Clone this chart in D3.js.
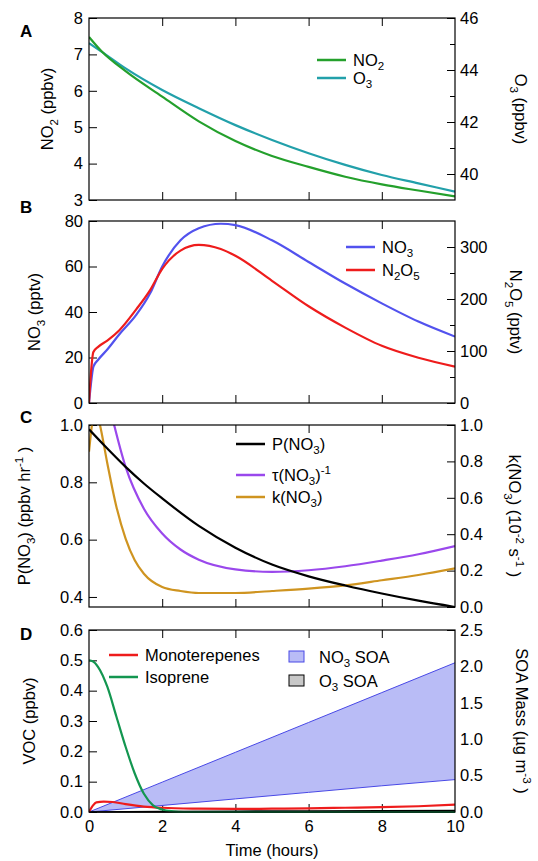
<!DOCTYPE html>
<html>
<head>
<meta charset="utf-8">
<script src="https://cdn.jsdelivr.net/npm/d3@7"></script>
<style>
body { margin: 0; background: #fff; }
text { font-family: "Liberation Sans", Arial, sans-serif; fill: #000; }
</style>
</head>
<body>
<svg id="chart" width="538" height="861"></svg>
<script>
// Panel A
var tA = [0, 0.35, 1, 2, 3, 4, 5, 6, 7, 8, 9, 10];
var no2 = [7.48, 7.08, 6.54, 5.84, 5.16, 4.62, 4.21, 3.91, 3.64, 3.43, 3.26, 3.10];
var o3 = [45.03, 44.70, 44.06, 43.23, 42.53, 41.88, 41.31, 40.80, 40.35, 39.96, 39.64, 39.32];

// Panel B
var tB = [0, 0.05, 0.12, 0.25, 0.5, 0.83, 1.29, 1.67, 2, 2.5, 3, 3.6, 4, 5, 6, 7, 8, 9, 10];
var no3 = [0, 8, 16, 19, 23.5, 30.2, 38.7, 48.2, 60, 71.5, 76.8, 78.8, 78.2, 71.5, 62, 52.5, 43.8, 35.8, 29.2];
var n2o5 = [0, 55, 98, 108, 120, 140, 180, 217, 258, 293, 304, 296, 283, 235, 186, 145, 110, 87, 70];

// Panel C
var tP = [0, 0.5, 1, 1.5, 2, 3, 4, 5, 6, 7, 8, 9, 10];
var pNo3 = [0.985, 0.918, 0.854, 0.796, 0.744, 0.648, 0.572, 0.513, 0.472, 0.44, 0.412, 0.387, 0.365];
var tTau = [0.6, 1, 1.5, 2, 2.5, 3, 4, 5, 6, 7, 8, 9, 10];
var tauInv = [1.07, 0.77, 0.54, 0.404, 0.316, 0.26, 0.207, 0.193, 0.202, 0.224, 0.255, 0.29, 0.335];
var tK = [0, 0.08, 0.17, 0.3, 0.5, 0.75, 1, 1.25, 1.5, 2, 2.5, 3, 4, 5, 6, 7, 8, 9, 10];
var kNo3 = [0.853, 1.0, 1.1, 1.0, 0.79, 0.55, 0.376, 0.257, 0.183, 0.11, 0.088, 0.077, 0.077, 0.088, 0.101, 0.119, 0.147, 0.176, 0.212];

// Panel D
var tMono = [0, 0.1, 0.2, 0.4, 0.65, 1, 1.5, 2, 3, 4, 5, 6, 7, 8, 9, 10];
var mono = [0, 0.02, 0.032, 0.034, 0.033, 0.026, 0.018, 0.014, 0.011, 0.01, 0.011, 0.012, 0.014, 0.016, 0.019, 0.024];
var tIso = [0, 0.1, 0.25, 0.5, 0.75, 1, 1.25, 1.5, 1.75, 2, 2.3, 2.6, 10];
var iso = [0.5, 0.497, 0.478, 0.413, 0.314, 0.215, 0.127, 0.06, 0.022, 0.008, 0.002, 0, 0];
var tSoa = [0, 2, 4, 6, 8, 10];
var no3SoaHigh = [0, 0.41, 0.82, 1.23, 1.64, 2.05];
var no3SoaLow = [0, 0.09, 0.18, 0.27, 0.36, 0.445];
var o3Soa = [0, 0.008, 0.012, 0.015, 0.018, 0.02];

var xTicks = [0, 2, 4, 6, 8, 10];

var svg = d3.select("#chart");
var left = 89, right = 455, H = 182, FS = 16.5;
var x = d3.scaleLinear().domain([0, 10]).range([left, right]);

function zip(t, v) {
    return t.map(function(d, i) { return [d, v[i]]; });
}

// writes text with sub/superscript pieces
function rich(sel, parts, size) {
    var shift = 0;
    parts.forEach(function(p) {
        var target = p[1] == "sub" ? size * 0.3 : (p[1] == "sup" ? -size * 0.4 : 0);
        var ts = sel.append("tspan").text(p[0]).attr("dy", target - shift);
        if (p[1]) ts.attr("font-size", size * 0.7);
        shift = target;
    });
    return sel;
}

function makePanel(opt) {
    var top = opt.top, bottom = top + H;
    var g = svg.append("g");
    var yL = d3.scaleLinear().domain(opt.left).range([bottom, top]);
    var yR = d3.scaleLinear().domain(opt.right).range([bottom, top]);

    // clip at the frame, a little slack at the bottom so zero lines stay whole
    g.append("clipPath").attr("id", "clip" + opt.id)
        .append("rect").attr("x", left).attr("y", top).attr("width", right - left).attr("height", H + 2);

    // axes, all ticks point inward
    g.append("g").attr("transform", "translate(" + left + ",0)")
        .call(d3.axisLeft(yL).tickValues(opt.leftTicks).tickSize(-8).tickPadding(6).tickFormat(d3.format(opt.leftFmt)));
    g.append("g").attr("transform", "translate(" + right + ",0)")
        .call(d3.axisRight(yR).tickValues(opt.rightTicks).tickSize(-8).tickPadding(5).tickFormat(d3.format(opt.rightFmt)));
    if (opt.rightMinor) {
        g.append("g").attr("transform", "translate(" + right + ",0)")
            .call(d3.axisRight(yR).tickValues(opt.rightMinor).tickSize(-5).tickFormat(""));
    }
    g.append("g").attr("transform", "translate(0," + top + ")")
        .call(d3.axisTop(x).tickValues(xTicks.slice(1, 5)).tickSize(-8).tickFormat(""));
    var xb = g.append("g").attr("transform", "translate(0," + bottom + ")")
        .call(d3.axisBottom(x).tickValues(opt.bottomLabels ? xTicks : xTicks.slice(1, 5)).tickSize(-8).tickPadding(8)
            .tickFormat(opt.bottomLabels ? d3.format("d") : ""));
    g.selectAll(".domain").remove();
    g.selectAll(".tick line").attr("stroke", "#000");
    g.selectAll(".tick text").attr("font-size", FS).attr("font-family", "Liberation Sans, Arial, sans-serif").attr("fill", "#000");
    if (opt.bottomLabels) {
        xb.selectAll(".tick line").filter(function(d) { return d == 0 || d == 10; }).remove();
    }

    var plot = g.append("g").attr("clip-path", "url(#clip" + opt.id + ")");

    g.append("rect").attr("x", left).attr("y", top).attr("width", right - left).attr("height", H)
        .attr("fill", "none").attr("stroke", "#000").attr("stroke-width", 1.2);

    // panel letter
    g.append("text").attr("x", 20).attr("y", opt.letterY).attr("font-size", 17).attr("font-weight", "bold").text(opt.id);

    // axis titles
    rich(g.append("text").attr("font-size", FS).attr("text-anchor", "middle")
        .attr("transform", "translate(" + opt.leftTitleX + "," + (top + H / 2) + ") rotate(-90)"), opt.leftTitle, FS);
    rich(g.append("text").attr("font-size", FS).attr("text-anchor", "middle")
        .attr("transform", "translate(" + opt.rightTitleX + "," + (top + H / 2) + ") rotate(90)"), opt.rightTitle, FS);

    return {g: g, plot: plot, yL: yL, yR: yR, top: top};
}

function drawLine(p, y, t, v, color, w) {
    p.plot.append("path")
        .datum(zip(t, v))
        .attr("fill", "none").attr("stroke", color).attr("stroke-width", w || 2.2)
        .attr("stroke-linejoin", "round")
        .attr("d", d3.line().x(function(d) { return x(d[0]); }).y(function(d) { return y(d[1]); }).curve(d3.curveMonotoneX));
}

function legendLine(p, x0, y0, color, parts) {
    p.g.append("line").attr("x1", x0).attr("x2", x0 + 29).attr("y1", y0).attr("y2", y0)
        .attr("stroke", color).attr("stroke-width", 2.5);
    rich(p.g.append("text").attr("x", x0 + 36).attr("y", y0 + 5.5).attr("font-size", FS), parts, FS);
}

var green = "#24a02c", teal = "#22a0aa", blue = "#5252ee", red = "#ee1c1c";
var purple = "#9a48ec", orange = "#cf9420", isoGreen = "#139650";

// A
var pA = makePanel({id: "A", top: 18, left: [3, 8], right: [39, 46],
    leftTicks: [3, 4, 5, 6, 7, 8], leftFmt: "d", rightTicks: [40, 42, 44, 46], rightFmt: "d", rightMinor: [41, 43, 45],
    letterY: 37, leftTitleX: 53, rightTitleX: 515,
    leftTitle: [["NO"], ["2", "sub"], [" (ppbv)"]], rightTitle: [["O"], ["3", "sub"], [" (ppbv)"]]});
drawLine(pA, pA.yR, tA, o3, teal);
drawLine(pA, pA.yL, tA, no2, green);
legendLine(pA, 317, 60, green, [["NO"], ["2", "sub"]]);
legendLine(pA, 317, 78, teal, [["O"], ["3", "sub"]]);

// B
var pB = makePanel({id: "B", top: 221, left: [0, 80], right: [0, 350],
    leftTicks: [0, 20, 40, 60, 80], leftFmt: "d", rightTicks: [0, 100, 200, 300], rightFmt: "d", rightMinor: [50, 150, 250],
    letterY: 213, leftTitleX: 40, rightTitleX: 510,
    leftTitle: [["NO"], ["3", "sub"], [" (pptv)"]], rightTitle: [["N"], ["2", "sub"], ["O"], ["5", "sub"], [" (pptv)"]]});
drawLine(pB, pB.yL, tB, no3, blue);
drawLine(pB, pB.yR, tB, n2o5, red);
legendLine(pB, 346, 247, blue, [["NO"], ["3", "sub"]]);
legendLine(pB, 346, 270, red, [["N"], ["2", "sub"], ["O"], ["5", "sub"]]);

// C
var pC = makePanel({id: "C", top: 425, left: [0.365, 1.0], right: [0, 1],
    leftTicks: [0.4, 0.6, 0.8, 1.0], leftFmt: ".1f", rightTicks: [0, 0.2, 0.4, 0.6, 0.8, 1.0], rightFmt: ".1f",
    letterY: 423, leftTitleX: 30, rightTitleX: 509,
    leftTitle: [["P(NO"], ["3", "sub"], [") (ppbv hr"], ["-1", "sup"], [" )"]],
    rightTitle: [["k(NO"], ["3", "sub"], [") (10"], ["-2", "sup"], [" s"], ["-1", "sup"], [" )"]]});
drawLine(pC, pC.yR, tK, kNo3, orange);
drawLine(pC, pC.yR, tTau, tauInv, purple);
drawLine(pC, pC.yL, tP, pNo3, "#000");
legendLine(pC, 236, 444, "#000", [["P(NO"], ["3", "sub"], [")"]]);
legendLine(pC, 236, 475, purple, [["τ(NO"], ["3", "sub"], [")"], ["-1", "sup"]]);
legendLine(pC, 236, 497, orange, [["k(NO"], ["3", "sub"], [")"]]);

// D
var pD = makePanel({id: "D", top: 630, left: [0, 0.6], right: [0, 2.5],
    leftTicks: [0, 0.1, 0.2, 0.3, 0.4, 0.5, 0.6], leftFmt: ".1f", rightTicks: [0, 0.5, 1.0, 1.5, 2.0, 2.5], rightFmt: ".1f",
    letterY: 640, leftTitleX: 35, rightTitleX: 516, bottomLabels: true,
    leftTitle: [["VOC (ppbv)"]], rightTitle: [["SOA Mass (µg m"], ["-3", "sup"], [" )"]]});

var soaBand = tSoa.map(function(t, i) { return {t: t, lo: no3SoaLow[i], hi: no3SoaHigh[i], o3: o3Soa[i]}; });
pD.plot.append("path").datum(soaBand).attr("fill", "#b9bcf6").attr("stroke", "none")
    .attr("d", d3.area().x(function(d) { return x(d.t); }).y0(function(d) { return pD.yR(d.lo); }).y1(function(d) { return pD.yR(d.hi); }));
drawLine(pD, pD.yR, tSoa, no3SoaHigh, "#4848e6", 1);
drawLine(pD, pD.yR, tSoa, no3SoaLow, "#4848e6", 1);
pD.plot.append("path").datum(soaBand).attr("fill", "#c8c8c8").attr("stroke", "#000").attr("stroke-width", 1.5)
    .attr("d", d3.area().x(function(d) { return x(d.t); }).y0(pD.yR(0)).y1(function(d) { return pD.yR(d.o3); }));
drawLine(pD, pD.yL, tMono, mono, red);
drawLine(pD, pD.yL, tIso, iso, isoGreen);

legendLine(pD, 109, 655, red, [["Monoterepenes"]]);
legendLine(pD, 109, 677, isoGreen, [["Isoprene"]]);

var sw = [[651, "#b9bcf6", "#4848e6", [["NO"], ["3", "sub"], [" SOA"]]], [675, "#c8c8c8", "#000", [["O"], ["3", "sub"], [" SOA"]]]];
sw.forEach(function(s) {
    pD.g.append("rect").attr("x", 289).attr("y", s[0]).attr("width", 15).attr("height", 11)
        .attr("fill", s[1]).attr("stroke", s[2]).attr("stroke-width", 1);
    rich(pD.g.append("text").attr("x", 319).attr("y", s[0] + 11.5).attr("font-size", FS), s[3], FS);
});

svg.append("text").attr("x", (left + right) / 2).attr("y", 856).attr("text-anchor", "middle")
    .attr("font-size", FS).text("Time (hours)");
</script>
</body>
</html>
